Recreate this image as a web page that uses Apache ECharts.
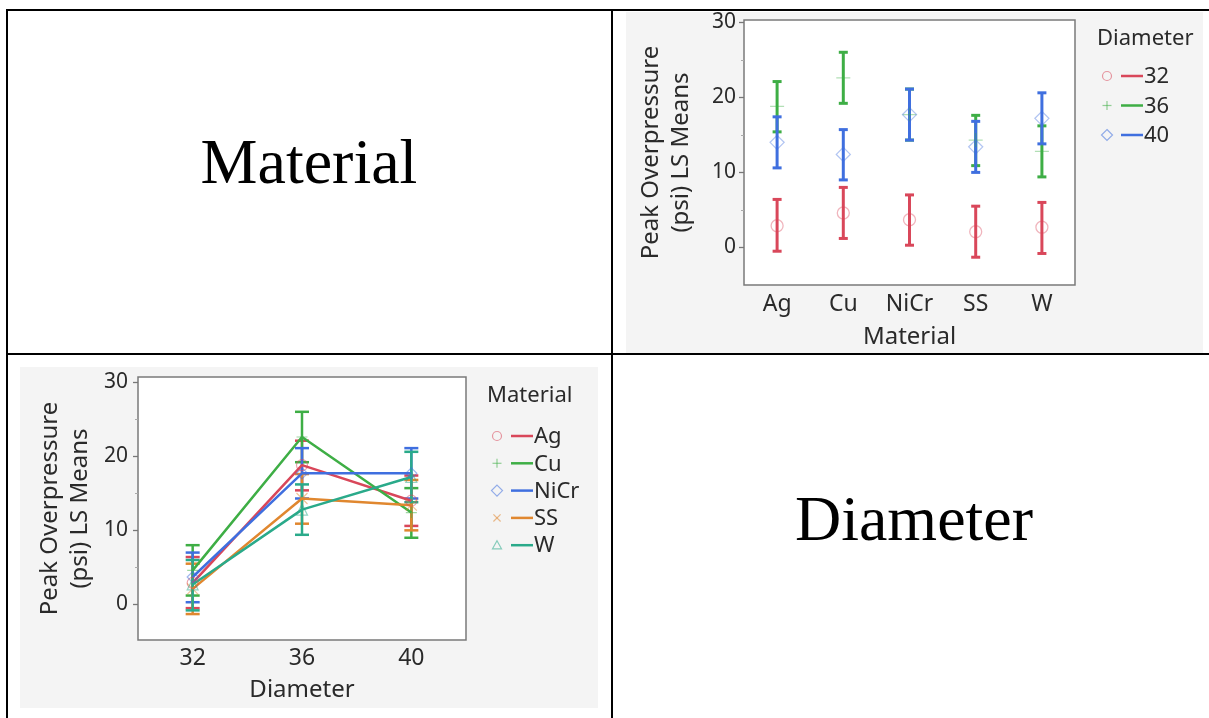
<!DOCTYPE html>
<html>
<head>
<meta charset="utf-8">
<script src="https://cdn.jsdelivr.net/npm/echarts@6/dist/echarts.min.js"></script>
<style>
  html, body { margin: 0; padding: 0; background: #ffffff; }
  #main { width: 1209px; height: 718px; }
</style>
</head>
<body>
<div id="main"></div>
<script>
// Factor levels
const materials = ['Ag', 'Cu', 'NiCr', 'SS', 'W'];
const diameters = ['32', '36', '40'];

// LS means of peak overpressure (psi), one array per diameter, ordered as materials
const mean32 = [2.9, 4.6, 3.7, 2.1, 2.7];
const mean36 = [18.8, 22.6, 17.7, 14.3, 12.8];
const mean40 = [14.0, 12.4, 17.7, 13.4, 17.2];

// Confidence limits around each mean
const lower32 = [-0.5, 1.2, 0.3, -1.3, -0.8];
const upper32 = [6.4, 8.0, 7.0, 5.5, 6.0];
const lower36 = [15.4, 19.2, 14.3, 10.9, 9.4];
const upper36 = [22.1, 26.0, 21.1, 17.6, 16.2];
const lower40 = [10.6, 9.0, 14.3, 10.0, 13.8];
const upper40 = [17.4, 15.7, 21.1, 16.8, 20.6];

// Axis tick labels
const yTickValues = [0, 10, 20, 30];
const yMinorTickValues = [5, 15, 25];

const means = [mean32, mean36, mean40];
const lowers = [lower32, lower36, lower40];
const uppers = [upper32, upper36, upper40];

const diameterColors = ['#d9475a', '#3eae45', '#3f6fdf'];
const diameterSymbols = ['circle', 'plus', 'diamond'];
const materialColors = ['#d9475a', '#3eae45', '#3f6fdf', '#e0872f', '#2aaa8a'];
const materialSymbols = ['circle', 'plus', 'diamond', 'cross', 'triangle'];

const FONT = 'Noto Sans';
const TEXT = '#2a2a2a';

const symbolPath = {
  circle: 'circle',
  diamond: 'diamond',
  triangle: 'triangle',
  plus: 'path://M0,5H10M5,0V10',
  cross: 'path://M0,0L10,10M10,0L0,10'
};

function fade(hex, a) {
  const n = parseInt(hex.slice(1), 16);
  return 'rgba(' + (n >> 16) + ',' + ((n >> 8) & 255) + ',' + (n & 255) + ',' + a + ')';
}

function errorBars(capHalf, lw) {
  return function (params, api) {
    const lo = api.coord([api.value(0), api.value(1)]);
    const hi = api.coord([api.value(0), api.value(2)]);
    const color = api.visual('color');
    const st = { stroke: color, lineWidth: lw };
    return {
      type: 'group',
      children: [
        { type: 'line', shape: { x1: lo[0], y1: lo[1], x2: hi[0], y2: hi[1] }, style: st },
        { type: 'line', shape: { x1: lo[0] - capHalf, y1: lo[1], x2: lo[0] + capHalf, y2: lo[1] }, style: st },
        { type: 'line', shape: { x1: hi[0] - capHalf, y1: hi[1], x2: hi[0] + capHalf, y2: hi[1] }, style: st }
      ]
    };
  };
}

// Small legend glyphs drawn as plain shapes
function glyph(kind, cx, cy, r, color) {
  const st = { stroke: color, lineWidth: 1.2, fill: 'none' };
  if (kind === 'circle') return { type: 'circle', shape: { cx: cx, cy: cy, r: r }, style: st };
  if (kind === 'diamond') return { type: 'polygon', shape: { points: [[cx, cy - r - 1], [cx + r + 1, cy], [cx, cy + r + 1], [cx - r - 1, cy]] }, style: st };
  if (kind === 'triangle') return { type: 'polygon', shape: { points: [[cx, cy - r], [cx + r, cy + r * 0.8], [cx - r, cy + r * 0.8]] }, style: st };
  if (kind === 'plus') return { type: 'group', children: [
    { type: 'line', shape: { x1: cx - r, y1: cy, x2: cx + r, y2: cy }, style: st },
    { type: 'line', shape: { x1: cx, y1: cy - r, x2: cx, y2: cy + r }, style: st }] };
  return { type: 'group', children: [
    { type: 'line', shape: { x1: cx - r * 0.8, y1: cy - r * 0.8, x2: cx + r * 0.8, y2: cy + r * 0.8 }, style: st },
    { type: 'line', shape: { x1: cx + r * 0.8, y1: cy - r * 0.8, x2: cx - r * 0.8, y2: cy + r * 0.8 }, style: st }] };
}

function legendBlock(title, names, colors, kinds, x, titleY, firstY, step) {
  const els = [{
    type: 'text', left: x, top: titleY - 10,
    style: { text: title, font: '22px "' + FONT + '"', fill: TEXT }
  }];
  names.forEach(function (n, i) {
    const y = firstY + i * step;
    els.push(glyph(kinds[i], x + 10, y, 4.5, fade(colors[i], 0.55)));
    els.push({ type: 'line', shape: { x1: x + 24, y1: y, x2: x + 46, y2: y }, style: { stroke: colors[i], lineWidth: 2.5 } });
    els.push({ type: 'text', left: x + 47, top: y - 10, style: { text: n, font: '22px "' + FONT + '"', fill: TEXT } });
  });
  return els;
}

function valueAxes(gridIndex, min, max, labelMargin, nameGap) {
  return [{
    type: 'value', gridIndex: gridIndex, min: min, max: max, position: 'left',
    name: 'Peak Overpressure\n(psi) LS Means', nameLocation: 'middle', nameGap: nameGap,
    nameTextStyle: { fontFamily: FONT, fontSize: 24, color: TEXT, lineHeight: 30 },
    axisLine: { show: false },
    axisTick: { show: true, length: 5, customValues: yTickValues, lineStyle: { color: '#777', width: 1.3 } },
    axisLabel: { customValues: yTickValues, margin: labelMargin, fontFamily: FONT, fontSize: 21, color: TEXT },
    splitLine: { show: false }
  }, {
    type: 'value', gridIndex: gridIndex, min: min, max: max, position: 'left',
    axisLine: { show: false },
    axisTick: { show: true, length: 3, customValues: yMinorTickValues, lineStyle: { color: '#aaa', width: 1 } },
    axisLabel: { show: false },
    splitLine: { show: false }
  }];
}

function categoryAxis(gridIndex, data, name, labelMargin, nameGap) {
  return {
    type: 'category', gridIndex: gridIndex, data: data, boundaryGap: true,
    name: name, nameLocation: 'middle', nameGap: nameGap,
    nameTextStyle: { fontFamily: FONT, fontSize: 24, color: TEXT },
    axisLine: { show: false }, axisTick: { show: false },
    axisLabel: { margin: labelMargin, fontFamily: FONT, fontSize: 23, color: TEXT },
    splitLine: { show: false }
  };
}

const series = [];

// Material on the x axis, one group per diameter
diameters.forEach(function (d, i) {
  series.push({
    type: 'custom', name: d, xAxisIndex: 0, yAxisIndex: 0,
    itemStyle: { color: diameterColors[i] },
    renderItem: errorBars(4.5, 3),
    data: materials.map(function (m, j) { return [j, lowers[i][j], uppers[i][j]]; }),
    z: 3 + i
  });
  series.push({
    type: 'scatter', name: d, xAxisIndex: 0, yAxisIndex: 0,
    symbol: symbolPath[diameterSymbols[i]], symbolSize: diameterSymbols[i] === 'circle' ? 12 : 14,
    itemStyle: { color: 'rgba(0,0,0,0)', borderColor: fade(diameterColors[i], 0.5), borderWidth: 1.3 },
    data: materials.map(function (m, j) { return [j, means[i][j]]; }),
    z: 6 + i
  });
});

// Diameter on the x axis, one line per material
materials.forEach(function (m, j) {
  series.push({
    type: 'custom', name: m, xAxisIndex: 1, yAxisIndex: 2,
    itemStyle: { color: materialColors[j] },
    renderItem: errorBars(7, 2.5),
    data: diameters.map(function (d, i) { return [i, lowers[i][j], uppers[i][j]]; }),
    z: 3
  });
  series.push({
    type: 'line', name: m, xAxisIndex: 1, yAxisIndex: 2,
    symbol: symbolPath[materialSymbols[j]], symbolSize: 11,
    showSymbol: true,
    lineStyle: { color: materialColors[j], width: 2.5 },
    itemStyle: { color: 'rgba(0,0,0,0)', borderColor: fade(materialColors[j], 0.5), borderWidth: 1.2 },
    data: diameters.map(function (d, i) { return means[i][j]; }),
    z: 4
  });
});

const graphic = [
  // chart panels
  { type: 'rect', shape: { x: 626, y: 12, width: 577, height: 341 }, style: { fill: '#f4f4f4' }, z: -10 },
  { type: 'rect', shape: { x: 20, y: 367, width: 578, height: 341 }, style: { fill: '#f4f4f4' }, z: -10 },
  // table rules
  { type: 'line', shape: { x1: 6, y1: 10, x2: 1209, y2: 10 }, style: { stroke: '#000', lineWidth: 2 }, z: 50 },
  { type: 'line', shape: { x1: 7, y1: 9, x2: 7, y2: 718 }, style: { stroke: '#000', lineWidth: 2 }, z: 50 },
  { type: 'line', shape: { x1: 612, y1: 9, x2: 612, y2: 718 }, style: { stroke: '#000', lineWidth: 2 }, z: 50 },
  { type: 'line', shape: { x1: 6, y1: 354, x2: 1209, y2: 354 }, style: { stroke: '#000', lineWidth: 2 }, z: 50 },
  // row headers
  { type: 'text', x: 309, y: 166, style: { text: 'Material', font: '64px "Liberation Serif"', fill: '#000', textAlign: 'center', textVerticalAlign: 'middle' } },
  { type: 'text', x: 914, y: 523, style: { text: 'Diameter', font: '64px "Liberation Serif"', fill: '#000', textAlign: 'center', textVerticalAlign: 'middle' } }
].concat(
  legendBlock('Diameter', diameters, diameterColors, diameterSymbols, 1097, 38, 76, 29.5),
  legendBlock('Material', materials, materialColors, materialSymbols, 487, 395, 436, 27.3)
);

const chart = echarts.init(document.getElementById('main'), null, { renderer: 'canvas' });
chart.setOption({
  animation: false,
  backgroundColor: '#ffffff',
  grid: [
    { left: 744, top: 20, width: 331, height: 265, show: true, backgroundColor: '#ffffff', borderColor: '#7a7a7a', borderWidth: 1.5 },
    { left: 138, top: 377, width: 328, height: 263, show: true, backgroundColor: '#ffffff', borderColor: '#7a7a7a', borderWidth: 1.5 }
  ],
  xAxis: [
    categoryAxis(0, materials, 'Material', 8, 40),
    categoryAxis(1, diameters, 'Diameter', 7, 38)
  ],
  yAxis: valueAxes(0, -5, 30.3, 8, 48).concat(valueAxes(1, -4.8, 30.7, 10, 43)),
  series: series,
  graphic: graphic
});
</script>
</body>
</html>
